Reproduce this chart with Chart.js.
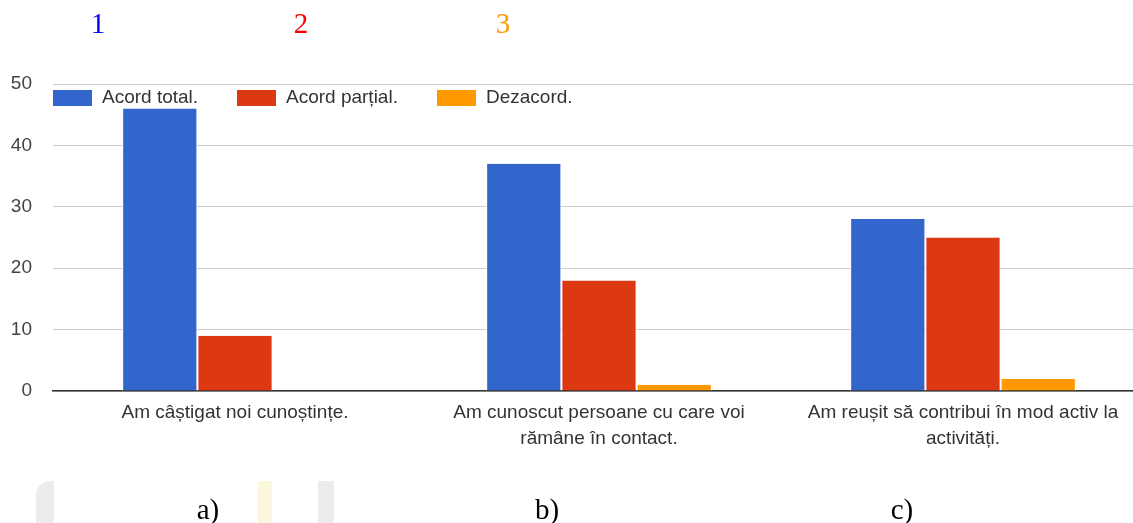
<!DOCTYPE html>
<html>
<head>
<meta charset="utf-8">
<script src="https://cdn.jsdelivr.net/npm/chart.js@4/dist/chart.umd.min.js"></script>
<style>
  html, body { margin: 0; padding: 0; background: #fff; overflow: hidden; }
  #wrap { position: relative; width: 1133px; height: 523px; }
  #chartBox { position: absolute; left: 0; top: 0; width: 1145px; height: 523px; }
  .num, .tag { position: absolute; font-family: "Liberation Serif", "DejaVu Serif", serif; font-size: 29px; line-height: 1; transform: translateX(-50%); }
  .mark { position: absolute; bottom: 0; height: 42px; }
</style>
</head>
<body>
<div id="wrap">
  <!-- faint watermark scraps at the bottom of the scan -->
  <div class="mark" style="left:36px; width:18px; background:#ececec; border-radius:14px 0 0 0;"></div>
  <div class="mark" style="left:258px; width:14px; background:#fbf7dc;"></div>
  <div class="mark" style="left:318px; width:16px; background:#ececec;"></div>
  <div id="chartBox"><canvas id="chart"></canvas></div>
  <div class="num" style="left:98px; top:9px; color:#0000ff;">1</div>
  <div class="num" style="left:301px; top:9px; color:#ff0000;">2</div>
  <div class="num" style="left:503px; top:9px; color:#ff9900;">3</div>
  <div class="tag" style="left:208px; top:495px;">a)</div>
  <div class="tag" style="left:547px; top:495px;">b)</div>
  <div class="tag" style="left:902px; top:495px;">c)</div>
</div>
<script>
// categories (multi-line labels)
const categories = [
  ["Am câștigat noi cunoștințe."],
  ["Am cunoscut persoane cu care voi", "rămâne în contact."],
  ["Am reușit să contribui în mod activ la", "activități."]
];
const seriesNames = ["Acord total.", "Acord parțial.", "Dezacord."];
const acordTotal = [46, 37, 28];
const acordPartial = [9, 18, 25];
const dezacord = [0, 1, 2];
const yTicks = [0, 10, 20, 30, 40, 50];

const colors = ["#3366cc", "#dc3912", "#ff9900"];
const FONT = '"Liberation Sans", Arial, sans-serif';

// legend drawn inside the plot area, like the google form export
const insideLegend = {
  id: "insideLegend",
  afterDraw(chart) {
    const ctx = chart.ctx;
    const area = chart.chartArea;
    const starts = [0, 184, 384];
    ctx.save();
    ctx.font = "19px " + FONT;
    ctx.textBaseline = "middle";
    chart.data.datasets.forEach((ds, i) => {
      const x = area.left + starts[i];
      const y = area.top + 14;
      ctx.fillStyle = ds.backgroundColor;
      ctx.fillRect(x, y - 8, 39, 16);
      ctx.fillStyle = "#333";
      ctx.fillText(ds.label, x + 49, y);
    });
    ctx.restore();
  }
};

new Chart(document.getElementById("chart"), {
  type: "bar",
  data: {
    labels: categories,
    datasets: [
      { label: seriesNames[0], data: acordTotal, backgroundColor: colors[0] },
      { label: seriesNames[1], data: acordPartial, backgroundColor: colors[1] },
      { label: seriesNames[2], data: dezacord, backgroundColor: colors[2] }
    ]
  },
  options: {
    responsive: true,
    maintainAspectRatio: false,
    animation: false,
    layout: { padding: { top: 84, left: 0, right: 0, bottom: 0 } },
    datasets: {
      bar: {
        barPercentage: 1,
        categoryPercentage: 0.62,
        borderColor: "#fff",
        borderWidth: { left: 1, right: 1 },
        borderSkipped: "bottom"
      }
    },
    plugins: {
      legend: { display: false },
      tooltip: { enabled: false }
    },
    scales: {
      x: {
        grid: { display: false, drawTicks: false },
        border: { display: true, color: "#333", width: 1.5 },
        ticks: {
          color: "#333",
          padding: 9,
          maxRotation: 0,
          autoSkip: false,
          font: { family: FONT, size: 19, lineHeight: 1.35 }
        },
        afterFit(scale) { scale.height = 132; }
      },
      y: {
        min: 0,
        max: 50,
        afterBuildTicks(scale) { scale.ticks = yTicks.map(v => ({ value: v })); },
        grid: {
          color: "#cccccc",
          drawTicks: false
        },
        border: { display: false },
        ticks: {
          color: "#444",
          padding: 21,
          font: { family: FONT, size: 19 }
        },
        afterFit(scale) { scale.width = 53; }
      }
    }
  },
  plugins: [insideLegend]
});
</script>
</body>
</html>
